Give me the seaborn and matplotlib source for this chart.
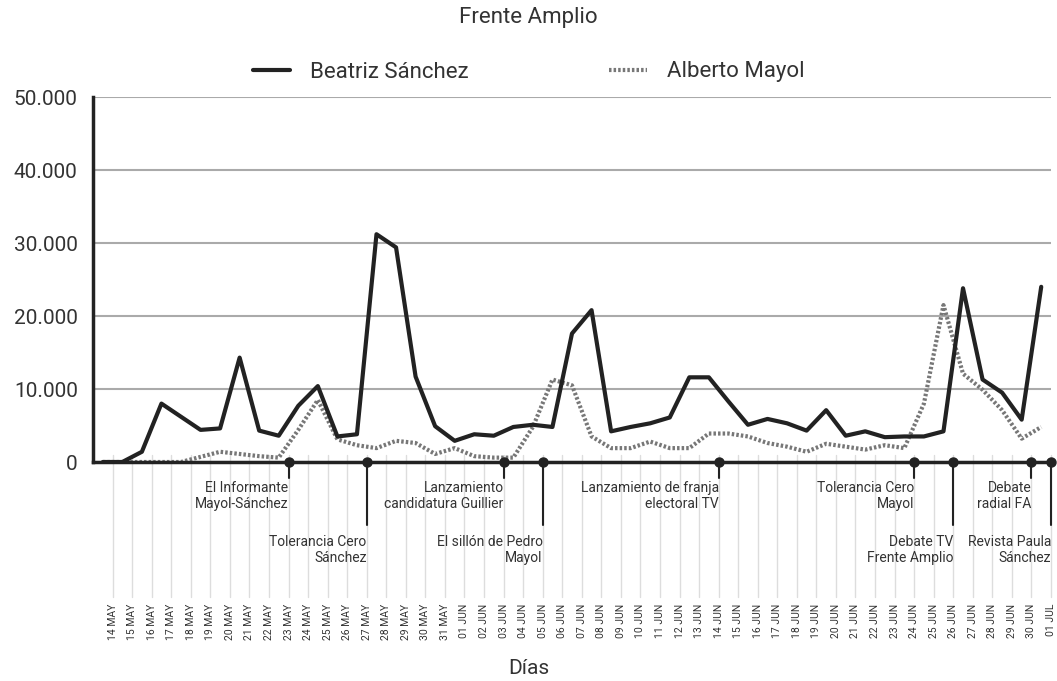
import matplotlib
matplotlib.use("Agg")
import matplotlib.pyplot as plt
import seaborn as sns
import pandas as pd
import numpy as np

# days shown on the x axis
dias = ["14 MAY", "15 MAY", "16 MAY", "17 MAY", "18 MAY", "19 MAY", "20 MAY", "21 MAY",
        "22 MAY", "23 MAY", "24 MAY", "25 MAY", "26 MAY", "27 MAY", "28 MAY", "29 MAY",
        "30 MAY", "31 MAY", "01 JUN", "02 JUN", "03 JUN", "04 JUN", "05 JUN", "06 JUN",
        "07 JUN", "08 JUN", "09 JUN", "10 JUN", "11 JUN", "12 JUN", "13 JUN", "14 JUN",
        "15 JUN", "16 JUN", "17 JUN", "18 JUN", "19 JUN", "20 JUN", "21 JUN", "22 JUN",
        "23 JUN", "24 JUN", "25 JUN", "26 JUN", "27 JUN", "28 JUN", "29 JUN", "30 JUN",
        "01 JUL"]

beatriz = [0, 0, 1400, 8000, 6200, 4400, 4600, 14300, 4300, 3600, 7700, 10400, 3500, 3800,
           31200, 29400, 11700, 4900, 2900, 3800, 3600, 4800, 5100, 4800, 17600, 20800, 4200,
           4800, 5300, 6100, 11600, 11600, 8300, 5100, 5900, 5300, 4300, 7100, 3600, 4200,
           3400, 3500, 3500, 4200, 23800, 11300, 9500, 5800, 24000]

mayol = [0, 0, 0, 0, 0, 700, 1400, 1100, 800, 600, 4400, 8500, 3100, 2300, 1900, 2900, 2600,
         1100, 1900, 800, 600, 600, 4800, 11300, 10500, 3500, 1900, 1900, 2800, 1900, 1900,
         3900, 3900, 3500, 2600, 2100, 1400, 2500, 2100, 1700, 2300, 1900, 8000, 21500, 12100,
         9900, 7100, 3200, 4800]

# events marked under the baseline
eventos = ["23 MAY", "27 MAY", "03 JUN", "05 JUN", "14 JUN", "24 JUN", "26 JUN", "30 JUN", "01 JUL"]
eventos_txt = ["El Informante\nMayol-Sánchez", "Tolerancia Cero\nSánchez",
               "Lanzamiento\ncandidatura Guillier", "El sillón de Pedro\nMayol",
               "Lanzamiento de franja\nelectoral TV", "Tolerancia Cero\nMayol",
               "Debate TV\nFrente Amplio", "Debate\nradial FA", "Revista Paula\nSánchez"]
eventos_largo = [False, True, False, True, False, False, True, False, True]

sns.set_theme(style="white")
plt.rcParams['font.family'] = ['Roboto', 'DejaVu Sans']
txt = "#333333"

df = pd.DataFrame({"x": np.arange(len(dias)) - 0.5, "Beatriz Sánchez": beatriz,
                   "Alberto Mayol": mayol})

fig = plt.figure(figsize=(10.57, 6.81), dpi=100)
ax = fig.add_axes([93 / 1057, 1 - 462 / 681, (1051 - 93) / 1057, 365 / 681])

sns.lineplot(data=df, x="x", y="Beatriz Sánchez", ax=ax, color="#222222", lw=3,
             label="Beatriz Sánchez", zorder=4)
sns.lineplot(data=df, x="x", y="Alberto Mayol", ax=ax, color="#777777", lw=3,
             linestyle=(0, (0.6, 0.5)), label="Alberto Mayol", zorder=3)

ax.set_xlim(-1, len(dias) - 1)
ax.set_ylim(0, 50000)
ax.set_yticks(range(0, 50001, 10000))
ax.set_yticklabels([f"{v:,}".replace(",", ".") for v in range(0, 50001, 10000)],
                   fontsize=15, color=txt)
ax.tick_params(axis="y", length=0, pad=11)
ax.yaxis.grid(True, color="#aaaaaa", lw=1.5)
ax.set_axisbelow(True)

ax.set_xticks(range(len(dias)))
ax.set_xticklabels(dias, rotation=90, fontsize=7.5, color=txt)
ax.tick_params(axis="x", length=0, pad=102)

# light vertical guides under the baseline
tr = ax.get_xaxis_transform()
for i in range(len(dias)):
    ax.plot([i, i], [0.02, -0.37], transform=tr, color="#dddddd", lw=1, clip_on=False, zorder=0)

for s in ["top", "right"]:
    ax.spines[s].set_visible(False)
ax.spines["left"].set_color("#222222")
ax.spines["left"].set_linewidth(2.5)
ax.spines["bottom"].set_color("#222222")
ax.spines["bottom"].set_linewidth(2.5)
ax.spines["bottom"].set_zorder(5)

for d, t, largo in zip(eventos, eventos_txt, eventos_largo):
    i = dias.index(d)
    fin = -0.173 if largo else -0.044
    ax.plot([i, i], [0, fin], transform=tr, color="#222222", lw=1.5, clip_on=False, zorder=6)
    ax.plot([i], [0], transform=tr, marker="o", ms=6.5, color="#222222", clip_on=False, zorder=7)
    ax.text(i, -0.2 if largo else -0.052, t, transform=tr, ha="right", va="top",
            fontsize=10, color=txt, linespacing=1.15)

ax.set_xlabel("")
ax.set_ylabel("")
fig.text(0.5, 1 - 669 / 681, "Días", ha="center", va="center", fontsize=15, color=txt)
fig.text(0.5, 1 - 18 / 681, "Frente Amplio", ha="center", va="center", fontsize=16, color=txt)

ax.legend_.remove()
h, l = ax.get_legend_handles_labels()
fig.legend(h, l, loc="center", bbox_to_anchor=(0.5, 1 - 72 / 681), ncol=2,
           frameon=False, fontsize=16, handlelength=1.7, handletextpad=0.9,
           columnspacing=6.3, labelcolor=txt)

fig.savefig("out.png", dpi=100)
